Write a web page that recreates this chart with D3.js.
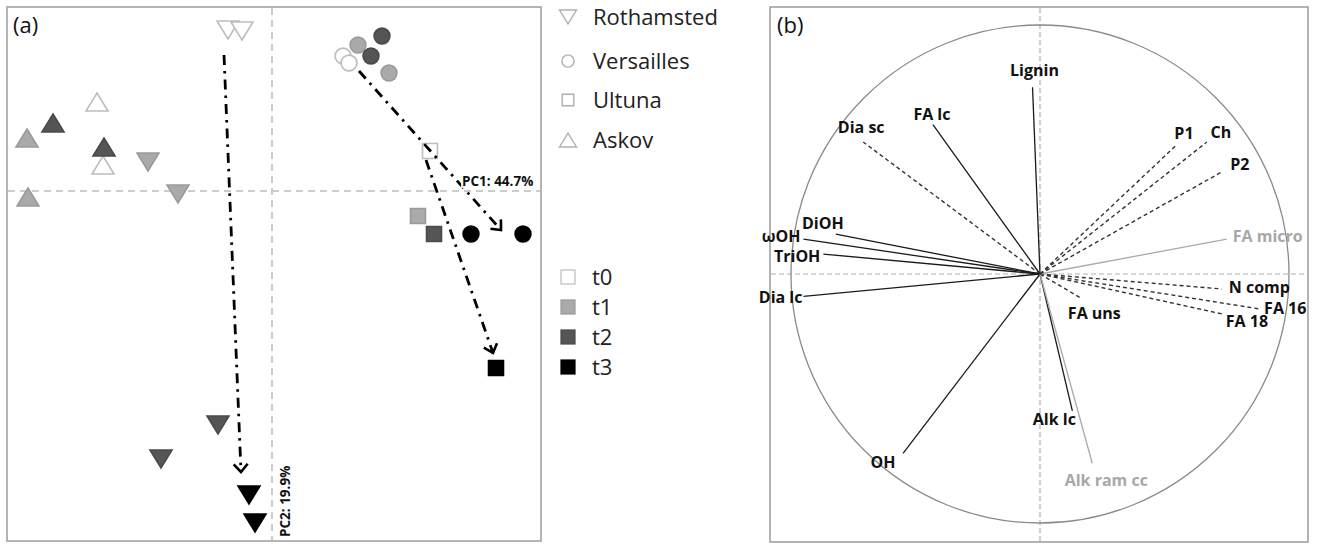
<!DOCTYPE html>
<html><head><meta charset="utf-8">
<script src="https://cdn.jsdelivr.net/npm/d3@7"></script>
<style>body{margin:0;background:#fff}svg{display:block}</style>
</head><body>
<svg id="c" width="1319" height="544"></svg>
<script>
// ---------- Panel (a) data: PCA scores ----------
const sites = ["Rothamsted", "Versailles", "Ultuna", "Askov"];
const times = ["t0", "t1", "t2", "t3"];
const pointSite = ["Rothamsted","Rothamsted","Rothamsted","Rothamsted","Rothamsted","Rothamsted","Rothamsted","Rothamsted",
  "Versailles","Versailles","Versailles","Versailles","Versailles","Versailles","Versailles","Versailles",
  "Ultuna","Ultuna","Ultuna","Ultuna",
  "Askov","Askov","Askov","Askov","Askov","Askov"];
const pointTime = ["t0","t0","t1","t1","t2","t2","t3","t3",
  "t0","t0","t1","t1","t2","t2","t3","t3",
  "t0","t1","t2","t3",
  "t0","t0","t1","t1","t2","t2"];
const pointPC1 = [-0.88,-0.60,-2.48,-1.88,-1.08,-2.22,-0.46,-0.34,
  1.42,1.54,1.72,2.34,2.20,1.98,3.98,5.02,
  3.16,2.92,3.24,4.48,
  -3.50,-3.38,-4.90,-4.88,-4.38,-3.36];
const pointPC2 = [3.22,3.20,0.58,-0.06,-4.68,-5.36,-6.08,-6.64,
  2.70,2.56,2.92,2.36,3.10,2.70,-0.86,-0.86,
  0.80,-0.50,-0.86,-3.54,
  1.78,0.52,1.06,-0.12,1.36,0.88];
// trajectories (dash-dot arrows)
const trajSite = ["Rothamsted", "Versailles", "Ultuna"];
const trajFromPC1 = [-0.96, 1.74, 3.08];
const trajFromPC2 = [2.72, 2.40, 0.62];
const trajToPC1 = [-0.62, 4.58, 4.42];
const trajToPC2 = [-5.62, -0.78, -3.24];
const pcLabels = ["PC1: 44.7%", "PC2: 19.9%"];

// ---------- Panel (b) data: correlation circle loadings ----------
const varNames = ["Lignin","FA lc","Dia sc","DiOH","\u03c9OH","TriOH","Dia lc","OH","Alk lc","Alk ram cc",
  "FA uns","N comp","FA 16","FA 18","FA micro","P1","Ch","P2"];
const varPC1 = [-0.03,-0.43,-0.71,-0.82,-0.95,-0.87,-0.95,-0.55,0.13,0.21,0.17,0.73,0.88,0.73,0.75,0.55,0.67,0.73];
const varPC2 = [0.75,0.60,0.53,0.16,0.14,0.08,-0.09,-0.72,-0.55,-0.76,-0.10,-0.06,-0.14,-0.16,0.14,0.52,0.53,0.41];
const varKind = ["solid","solid","dashed","solid","solid","solid","solid","solid","solid","grey",
  "dashed","dashed","dashed","dashed","grey","dashed","dashed","dashed"];

// ---------- layout / style (not data) ----------
const labelLayout = {
  "Lignin":[2,-17,"middle"], "FA lc":[-1,-11,"middle"], "Dia sc":[-2,-15,"middle"],
  "DiOH":[-13,-11,"middle"], "\u03c9OH":[-3,-3,"end"], "TriOH":[-3,2,"end"], "Dia lc":[-1,1,"end"],
  "OH":[-20,9,"middle"], "Alk lc":[-18,8,"middle"], "Alk ram cc":[14,17,"middle"],
  "FA uns":[12,14,"middle"], "N comp":[7,-2,"start"], "FA 16":[5,-1,"start"], "FA 18":[4,7,"start"],
  "FA micro":[6,-3,"start"], "P1":[7,-12,"middle"], "Ch":[14,-10,"middle"], "P2":[18,-8,"middle"]
};
const timeFill = {t0:"#ffffff", t1:"#aaaaaa", t2:"#555555", t3:"#000000"};
const timeStroke = {t0:"#bdbdbd", t1:"#9a9a9a", t2:"#4a4a4a", t3:"#000000"};

const svg = d3.select("#c");
const FONT = "'Open Sans', 'Noto Sans', sans-serif";

// ================= Panel (a) =================
const xA = d3.scaleLinear().domain([-5.3, 5.38]).range([7, 541]);
const yA = d3.scaleLinear().domain([3.68, -7.0]).range([7, 541]);
const gA = svg.append("g");

gA.append("rect").attr("x", 7).attr("y", 7).attr("width", 534).attr("height", 534)
  .attr("fill", "none").attr("stroke", "#b4b4b4").attr("stroke-width", 2);
gA.append("line").attr("x1", 8).attr("x2", 540).attr("y1", yA(0)).attr("y2", yA(0))
  .attr("stroke", "#cccccc").attr("stroke-width", 2).attr("stroke-dasharray", "7,5");
gA.append("line").attr("y1", 8).attr("y2", 540).attr("x1", xA(0)).attr("x2", xA(0))
  .attr("stroke", "#cccccc").attr("stroke-width", 2).attr("stroke-dasharray", "7,5");

gA.append("text").attr("x", 13).attr("y", 33).text("(a)")
  .attr("font-family", FONT).attr("font-size", 22).attr("fill", "#111");

function shapePath(site, s) {
  if (site === "Rothamsted") return `M${-s},${-0.82*s}L${s},${-0.82*s}L0,${0.82*s}Z`;
  if (site === "Askov") return `M0,${-0.82*s}L${s},${0.82*s}L${-s},${0.82*s}Z`;
  if (site === "Ultuna") { const h = s*0.68; return `M${-h},${-h}H${h}V${h}H${-h}Z`; }
  const r = s*0.72;
  return `M${r},0A${r},${r} 0 1 1 ${-r},0A${r},${r} 0 1 1 ${r},0Z`;
}

const pts = pointSite.map((s, i) => ({site: s, time: pointTime[i], x: pointPC1[i], y: pointPC2[i]}));
gA.selectAll("path.pt").data(pts).join("path").attr("class", "pt")
  .attr("transform", d => `translate(${xA(d.x)},${yA(d.y)})`)
  .attr("d", d => shapePath(d.site, 11))
  .attr("fill", d => timeFill[d.time])
  .attr("stroke", d => timeStroke[d.time]).attr("stroke-width", 1.6);

// arrowhead marker
svg.append("defs").append("marker").attr("id", "chev")
  .attr("markerUnits", "userSpaceOnUse").attr("viewBox", "-12 -12 24 24")
  .attr("markerWidth", 24).attr("markerHeight", 24).attr("refX", 0).attr("refY", 0)
  .attr("orient", "auto")
  .append("path").attr("d", "M-8,-7L0,0L-8,7").attr("fill", "none")
  .attr("stroke", "#000").attr("stroke-width", 2.6);

const trajs = trajSite.map((s, i) => ({s, x1: trajFromPC1[i], y1: trajFromPC2[i], x2: trajToPC1[i], y2: trajToPC2[i]}));
gA.selectAll("line.traj").data(trajs).join("line").attr("class", "traj")
  .attr("x1", d => xA(d.x1)).attr("y1", d => yA(d.y1))
  .attr("x2", d => xA(d.x2)).attr("y2", d => yA(d.y2))
  .attr("stroke", "#000").attr("stroke-width", 2.8)
  .attr("stroke-dasharray", "10,6,2.5,6")
  .attr("marker-end", "url(#chev)");

// PC labels
const pc1 = gA.append("g").attr("transform", `translate(${xA(0) + 190},${yA(0) - 5})`);
pc1.append("rect").attr("x", -1).attr("y", -13).attr("width", 78).attr("height", 15).attr("fill", "#fff").attr("opacity", 0.9);
pc1.append("text").text(pcLabels[0]).attr("font-family", FONT).attr("font-weight", "bold")
  .attr("font-size", 13.5).attr("fill", "#111");
const pc2 = gA.append("g").attr("transform", `translate(${xA(0) + 18},${yA(0) + 346}) rotate(-90)`);
pc2.append("text").text(pcLabels[1]).attr("font-family", FONT).attr("font-weight", "bold")
  .attr("font-size", 13.5).attr("fill", "#111");

// legend
const legSites = svg.append("g");
const legSiteY = [17, 61, 100, 140];
sites.forEach((s, i) => {
  legSites.append("path").attr("transform", `translate(568,${legSiteY[i]})`)
    .attr("d", shapePath(s, 8.5)).attr("fill", "#fff").attr("stroke", "#b0b0b0").attr("stroke-width", 1.4);
  legSites.append("text").attr("x", 593).attr("y", legSiteY[i] + 8).text(s)
    .attr("font-family", FONT).attr("font-size", 22).attr("fill", "#222");
});
const legTimeY = [277, 307, 337, 367];
times.forEach((t, i) => {
  legSites.append("rect").attr("x", 561).attr("y", legTimeY[i] - 7).attr("width", 14).attr("height", 14)
    .attr("fill", timeFill[t]).attr("stroke", timeStroke[t]).attr("stroke-width", 1.2);
  legSites.append("text").attr("x", 592).attr("y", legTimeY[i] + 8).text(t)
    .attr("font-family", FONT).attr("font-size", 22).attr("fill", "#222");
});

// ================= Panel (b) =================
const xB = d3.scaleLinear().domain([-1, 1]).range([791, 1289]);
const yB = d3.scaleLinear().domain([-1, 1]).range([523, 25]);
const gB = svg.append("g");
gB.append("rect").attr("x", 770).attr("y", 7).attr("width", 538).attr("height", 535)
  .attr("fill", "none").attr("stroke", "#9a9a9a").attr("stroke-width", 1.5);
gB.append("line").attr("x1", 771).attr("x2", 1307).attr("y1", yB(0)).attr("y2", yB(0))
  .attr("stroke", "#b0b0b0").attr("stroke-width", 1.2).attr("stroke-dasharray", "5,3");
gB.append("line").attr("y1", 8).attr("y2", 541).attr("x1", xB(0)).attr("x2", xB(0))
  .attr("stroke", "#b0b0b0").attr("stroke-width", 1.2).attr("stroke-dasharray", "5,3");
gB.append("circle").attr("cx", xB(0)).attr("cy", yB(0)).attr("r", xB(1) - xB(0))
  .attr("fill", "none").attr("stroke", "#8a8a8a").attr("stroke-width", 1.3);
gB.append("text").attr("x", 777).attr("y", 33).text("(b)")
  .attr("font-family", FONT).attr("font-size", 22).attr("fill", "#111");

const vars = varNames.map((n, i) => ({n, x: varPC1[i], y: varPC2[i], k: varKind[i]}));
gB.selectAll("line.v").data(vars).join("line").attr("class", "v")
  .attr("x1", xB(0)).attr("y1", yB(0))
  .attr("x2", d => xB(d.x)).attr("y2", d => yB(d.y))
  .attr("stroke", d => d.k === "grey" ? "#aaaaaa" : (d.k === "dashed" ? "#333" : "#1a1a1a"))
  .attr("stroke-width", d => d.k === "dashed" ? 1.4 : 1.3)
  .attr("stroke-dasharray", d => d.k === "dashed" ? "4,3" : null);
gB.selectAll("text.v").data(vars).join("text").attr("class", "v")
  .attr("x", d => xB(d.x) + labelLayout[d.n][0])
  .attr("y", d => yB(d.y) + labelLayout[d.n][1])
  .attr("text-anchor", d => labelLayout[d.n][2])
  .attr("dominant-baseline", "central")
  .attr("font-family", FONT).attr("font-weight", "bold").attr("font-size", 16)
  .attr("fill", d => d.k === "grey" ? "#a8a8a8" : "#111")
  .text(d => d.n);
</script>
</body></html>
